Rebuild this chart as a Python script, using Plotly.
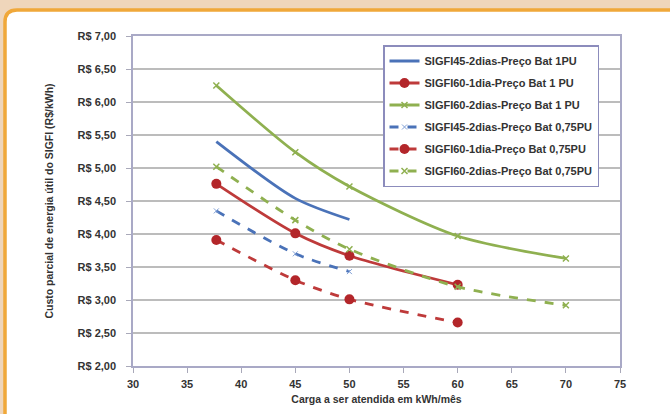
import plotly.graph_objects as go

# ---- data ----
x_s45 = [37.7, 45, 50]
x_s60 = [37.7, 45, 50, 60]
x_s60b = [37.7, 45, 50, 60, 70]

s45_2d_1pu = [5.40, 4.54, 4.22]
s60_1d_1pu = [4.76, 4.01, 3.67, 3.23]
s60_2d_1pu = [6.25, 5.24, 4.72, 3.97, 3.63]
s45_2d_075 = [4.35, 3.70, 3.43]
s60_1d_075 = [3.91, 3.30, 3.01, 2.66]
s60_2d_075 = [5.02, 4.21, 3.77, 3.20, 2.92]

names = [
    "SIGFI45-2dias-Preço Bat 1PU",
    "SIGFI60-1dia-Preço Bat 1 PU",
    "SIGFI60-2dias-Preço Bat 1 PU",
    "SIGFI45-2dias-Preço Bat 0,75PU",
    "SIGFI60-1dia-Preço Bat 0,75PU",
    "SIGFI60-2dias-Preço Bat 0,75PU",
]

x_ticks = [30, 35, 40, 45, 50, 55, 60, 65, 70, 75]
y_ticks = [2.0, 2.5, 3.0, 3.5, 4.0, 4.5, 5.0, 5.5, 6.0, 6.5, 7.0]
y_ticktext = ["R$ 2,00", "R$ 2,50", "R$ 3,00", "R$ 3,50", "R$ 4,00", "R$ 4,50",
              "R$ 5,00", "R$ 5,50", "R$ 6,00", "R$ 6,50", "R$ 7,00"]

x_title = "Carga a ser atendida em kWh/mês"
y_title = "Custo parcial de energia útil do SIGFI (R$/kWh)"

# ---- styling ----
BLUE = "#4a72b8"
RED = "#be3a3a"
GREEN = "#8fb050"
FONT = "Liberation Sans, Arial, sans-serif"

series = [
    (x_s45, s45_2d_1pu, BLUE, "solid", None),
    (x_s60, s60_1d_1pu, RED, "solid", dict(symbol="circle", size=10, color="#b3262a")),
    (x_s60b, s60_2d_1pu, GREEN, "solid", dict(symbol="x-thin", size=6, color=GREEN, line=dict(width=1.5, color=GREEN))),
    (x_s45, s45_2d_075, BLUE, "dash", dict(symbol="x-thin", size=5, color=BLUE, line=dict(width=1, color="#7f9fd6"))),
    (x_s60, s60_1d_075, RED, "dash", dict(symbol="circle", size=10, color="#b3262a")),
    (x_s60b, s60_2d_075, GREEN, "dash", dict(symbol="x-thin", size=6, color=GREEN, line=dict(width=1.5, color=GREEN))),
]

fig = go.Figure()
for i, (xs, ys, col, dash, marker) in enumerate(series):
    fig.add_trace(go.Scatter(
        x=xs, y=ys, name=names[i],
        mode="lines+markers" if marker else "lines",
        line=dict(color=col, width=2.8, dash=dash, shape="spline", smoothing=0.8),
        marker=marker,
        legendgroup=f"g{i}",
    ))

# geometry of plot area in pixels
W, H = 670, 414
L, R, T, B = 133, 50, 36, 48
pw, ph = W - L - R, H - T - B

def px(xp):
    return (xp - L) / pw

def py(yp):
    return (H - B - yp) / ph

# rounded white panel with orange border
x0, y0, x1, y1, rad = 5, 10, 720, 460, 12
path = (f"M {px(x0)},{py(y0 + rad)} "
        f"Q {px(x0)},{py(y0)} {px(x0 + rad)},{py(y0)} "
        f"L {px(x1)},{py(y0)} L {px(x1)},{py(y1)} L {px(x0)},{py(y1)} Z")
fig.add_shape(type="path", path=path, xref="paper", yref="paper",
              fillcolor="white", line=dict(color="#f0a83a", width=3.5), layer="below")

fig.update_layout(
    width=W, height=H,
    margin=dict(l=L, r=R, t=T, b=B),
    paper_bgcolor="#efd6bb",
    plot_bgcolor="white",
    font=dict(family=FONT, color="#333333", size=11),
    showlegend=True,
    legend=dict(
        x=px(383), y=py(45), xanchor="left", yanchor="top",
        bgcolor="white", bordercolor="#8c8cbc", borderwidth=1.5,
        font=dict(family=FONT, size=11, color="#333333", weight="bold"),
        tracegroupgap=3, itemwidth=30,
    ),
    xaxis=dict(
        range=[30, 75], tickvals=x_ticks, ticktext=[str(v) for v in x_ticks],
        showgrid=False, zeroline=False, automargin=False,
        showline=True, linecolor="#a9a9c6", linewidth=1.5, mirror=True,
        ticks="outside", ticklen=5, tickcolor="#a9a9b9",
        ticklabelstandoff=2,
        tickfont=dict(family=FONT, size=11, color="#333333", weight="bold"),
        title=dict(text=x_title, standoff=7,
                   font=dict(family=FONT, size=10.5, color="#333333", weight="bold")),
    ),
    yaxis=dict(
        range=[2.0, 7.0], tickvals=y_ticks, ticktext=y_ticktext,
        showgrid=True, gridcolor="#bcbcbc", gridwidth=2, zeroline=False, automargin=False,
        showline=True, linecolor="#a9a9c6", linewidth=1.5, mirror=True,
        ticks="outside", ticklen=5, tickcolor="#a9a9b9",
        ticklabelstandoff=8,
        tickfont=dict(family=FONT, size=11, color="#333333", weight="bold"),
        title=dict(text=y_title, standoff=22,
                   font=dict(family=FONT, size=10.5, color="#333333", weight="bold")),
    ),
)

fig.write_html("out.html")
